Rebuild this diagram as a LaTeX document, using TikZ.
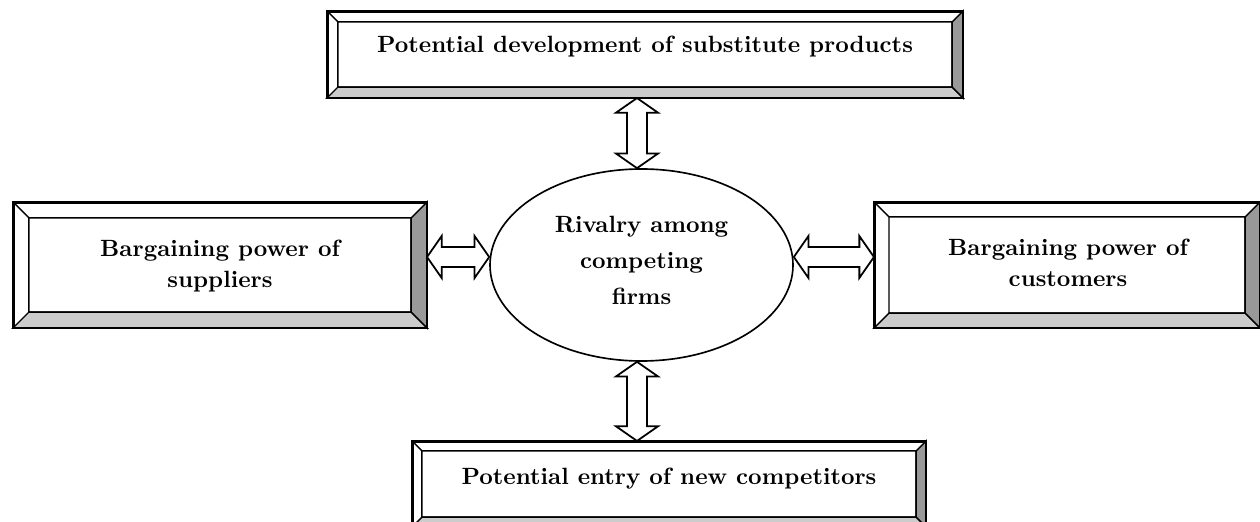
\documentclass[tikz,border=0pt]{standalone}
\usetikzlibrary{calc,shapes.geometric}
\definecolor{bevdark}{HTML}{999999}
\definecolor{bevlight}{HTML}{CCCCCC}
\def\px{0.425pt}
\def\ahl{6.2pt}
\def\ahw{8.9pt}
\def\asw{4.25pt}
\tikzset{
  bbox/.style={draw, line width=0.9pt, rectangle, inner sep=0pt, font=\bfseries, align=center},
  bevline/.style={line width=0.6pt},
  blockarrow/.style={draw, line width=0.75pt, fill=white, line join=miter},
  rival/.style={draw, ellipse, line width=0.7pt, inner sep=0pt},
  label/.style={font=\bfseries, align=center, inner sep=0pt}
}
\newcommand\bevelof[2]{%
  \coordinate (#1-inw) at ($(#1.north west)+(#2,#2)$);
  \coordinate (#1-ine) at ($(#1.north east)+(-#2,#2)$);
  \coordinate (#1-ise) at ($(#1.south east)+(-#2,-#2)$);
  \coordinate (#1-isw) at ($(#1.south west)+(#2,-#2)$);
  \filldraw[fill=bevlight, bevline] (#1.south west) -- (#1-isw) -- (#1-ise) -- (#1.south east) -- cycle;
  \filldraw[fill=bevdark, bevline] (#1.north east) -- (#1-ine) -- (#1-ise) -- (#1.south east) -- cycle;
  \draw[bevline] (#1.north west) -- (#1-inw) (#1-inw) rectangle (#1-ise);
  \draw[line width=0.9pt] (#1.north west) rectangle (#1.south east);
}
\newcommand\harrow[2]{%
  \draw[blockarrow] let \p1=(#1), \p2=(#2) in (\p1) -- (\x1+\ahl,\y1+\ahw) -- (\x1+\ahl,\y1+\asw) -- (\x2-\ahl,\y1+\asw) -- (\x2-\ahl,\y1+\ahw) -- (\x2,\y1) -- (\x2-\ahl,\y1-\ahw) -- (\x2-\ahl,\y1-\asw) -- (\x1+\ahl,\y1-\asw) -- (\x1+\ahl,\y1-\ahw) -- cycle;}
\newcommand\varrow[2]{%
  \draw[blockarrow] let \p1=(#1), \p2=(#2) in (\p1) -- (\x1+\ahw,\y1-\ahl) -- (\x1+\asw,\y1-\ahl) -- (\x1+\asw,\y2+\ahl) -- (\x1+\ahw,\y2+\ahl) -- (\x1,\y2) -- (\x1-\ahw,\y2+\ahl) -- (\x1-\asw,\y2+\ahl) -- (\x1-\asw,\y1-\ahl) -- (\x1-\ahw,\y1-\ahl) -- cycle;}
\begin{document}
\begin{tikzpicture}[x=0.425pt,y=-0.425pt]
\useasboundingbox (0,0) rectangle (1260,522);
% boxes
\node[bbox, minimum width=634*\px, minimum height=85*\px] (top) at (645,54.5) {};
\bevelof{top}{11}
\node[label] (toptext) at (645,47) {Potential development of substitute products};
\node[bbox, minimum width=412*\px, minimum height=124*\px] (lb) at (220,265) {};
\bevelof{lb}{16}
\node[label] (lbtext) at (220,266) {Bargaining power of\\[1pt]suppliers};
\node[bbox, minimum width=384*\px, minimum height=124*\px] (rb) at (1067,265) {};
\bevelof{rb}{15}
\node[label] (rbtext) at (1068,263) {Bargaining power of\\[1pt]customers};
\node[bbox, minimum width=512*\px, minimum height=84*\px] (bot) at (669,484) {};
\bevelof{bot}{10}
\node[label] (bottext) at (669,479) {Potential entry of new competitors};
% ellipse
\node[rival, minimum width=303*\px, minimum height=192*\px] (el) at (641.5,265) {};
\node[label] (eltext) at (641.5,260) {Rivalry among\\[3.3pt]competing\\[3.3pt]firms};
% arrows
\coordinate (ax) at (637,0);
\coordinate (ay) at (0,257);
\varrow{top.south -| ax}{el.north -| ax}
\varrow{el.south -| ax}{bot.north -| ax}
\harrow{lb.east |- ay}{el.west |- ay}
\harrow{el.east |- ay}{rb.west |- ay}
\end{tikzpicture}
\end{document}
